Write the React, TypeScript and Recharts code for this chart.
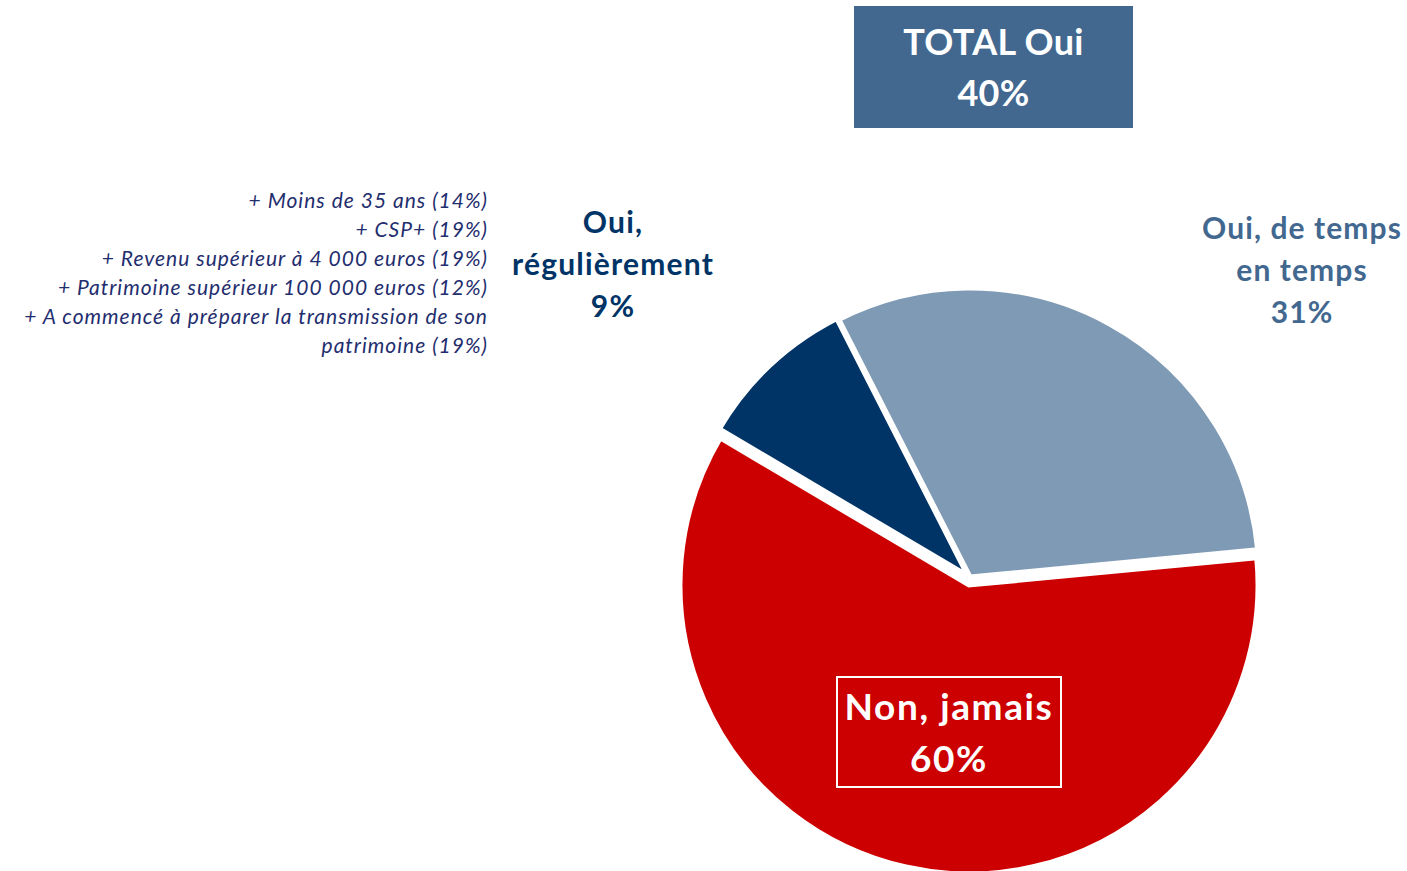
import React from "react";
import { PieChart, Pie, Cell } from "recharts";

const categories = ["Oui, de temps en temps", "Non, jamais", "Oui, régulièrement"];
const values = [31, 60, 9];
const colors = ["#7F9AB4", "#CC0000", "#003366"];
const totalLabel = ["TOTAL Oui", "40%"];
const noteLines = [
  "+ Moins de 35 ans (14%)",
  "+ CSP+ (19%)",
  "+ Revenu supérieur à 4 000 euros (19%)",
  "+ Patrimoine supérieur 100 000 euros (12%)",
  "+ A commencé à préparer la transmission de son",
  "patrimoine (19%)",
];

const data = categories.map((name, i) => ({ name, value: values[i] }));

// slight "exploded" offsets of each slice (layout only)
const sliceCenters = [
  { cx: 970, cy: 577 },
  { cx: 969, cy: 585 },
  { cx: 968, cy: 576 },
];

const FONT = "Lato, 'Open Sans', sans-serif";

export default function App() {
  return (
    <div style={{ position: "absolute", left: 0, top: 0, width: 1407, height: 871, overflow: "hidden", background: "#fff", fontFamily: FONT }}>
      <PieChart width={1407} height={871} margin={{ top: 0, right: 0, bottom: 0, left: 0 }} style={{ position: "absolute", left: 0, top: 0 }}>
        {sliceCenters.map((c, k) => (
          <Pie
            key={k}
            data={data}
            dataKey="value"
            nameKey="name"
            cx={c.cx}
            cy={c.cy}
            outerRadius={289}
            startAngle={117}
            endAngle={-243}
            isAnimationActive={false}
          >
            {data.map((d, i) => (
              <Cell
                key={d.name}
                fill={i === k ? colors[i] : "none"}
                stroke={i === k ? "#ffffff" : "none"}
                strokeWidth={i === k ? 5 : 0}
              />
            ))}
          </Pie>
        ))}
      </PieChart>

      <div style={{ position: "absolute", left: 854, top: 6, width: 279, height: 122, background: "#426890", color: "#fff", fontWeight: 700, fontSize: 36, letterSpacing: 0.3, lineHeight: "51px", display: "flex", flexDirection: "column", alignItems: "center", justifyContent: "center" }}>
        <div>{totalLabel[0]}</div>
        <div>{totalLabel[1]}</div>
      </div>

      <div style={{ position: "absolute", right: 1407 - 488, top: 185, textAlign: "right", fontStyle: "italic", fontSize: 21, letterSpacing: 1, lineHeight: "29px", color: "#1F2E6E", whiteSpace: "nowrap" }}>
        {noteLines.map((l) => (
          <div key={l}>{l}</div>
        ))}
      </div>

      <div style={{ position: "absolute", left: 463, width: 300, top: 200, textAlign: "center", fontWeight: 700, fontSize: 30, letterSpacing: 1.2, lineHeight: "42px", color: "#003366" }}>
        <div>Oui,</div>
        <div>{categories[2].replace("Oui, ", "")}</div>
        <div>{values[2]}%</div>
      </div>

      <div style={{ position: "absolute", left: 1152, width: 300, top: 206, textAlign: "center", fontWeight: 700, fontSize: 30, letterSpacing: 1.1, lineHeight: "42px", color: "#426890" }}>
        <div>Oui, de temps</div>
        <div>en temps</div>
        <div>{values[0]}%</div>
      </div>

      <div style={{ position: "absolute", left: 836, top: 676, width: 226, height: 112, boxSizing: "border-box", border: "2px solid #fff", color: "#fff", fontWeight: 700, fontSize: 37, letterSpacing: 1.6, lineHeight: "52px", display: "flex", flexDirection: "column", alignItems: "center", justifyContent: "center" }}>
        <div style={{ whiteSpace: "nowrap" }}>{categories[1]}</div>
        <div>{values[1]}%</div>
      </div>
    </div>
  );
}
